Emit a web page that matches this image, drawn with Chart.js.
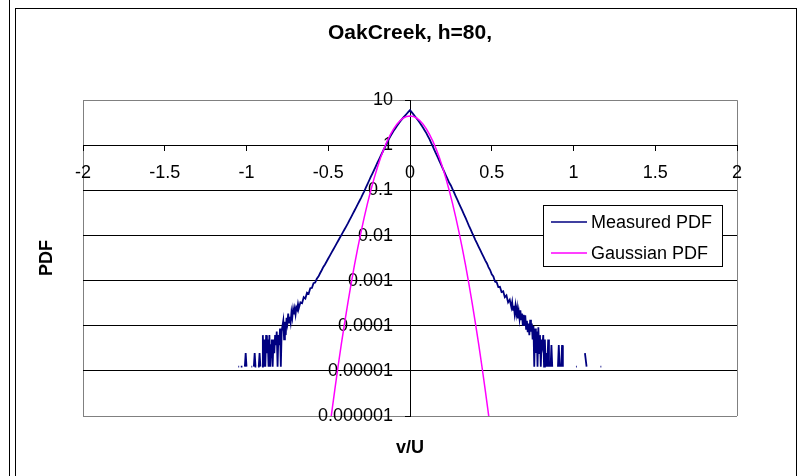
<!DOCTYPE html>
<html>
<head>
<meta charset="utf-8">
<title>OakCreek PDF</title>
<script src="https://cdn.jsdelivr.net/npm/chart.js@4.4.1/dist/chart.umd.min.js"></script>
<style>
  html, body { margin: 0; padding: 0; background: #fff; }
  #wrap { position: relative; width: 803px; height: 476px; }
</style>
</head>
<body>
<div id="wrap"><canvas id="pdfChart" width="803" height="476"></canvas></div>
<script>
const FONT = '"Liberation Sans", Arial, sans-serif';

// axis ticks
const xTicks = [-2, -1.5, -1, -0.5, 0, 0.5, 1, 1.5, 2];
const decadeTicks = [1e-6, 1e-5, 1e-4, 1e-3, 1e-2, 1e-1, 1, 10];
const decadeLabels = ['0.000001', '0.00001', '0.0001', '0.001', '0.01', '0.1', '1', '10'];

// measured velocity PDF (null = empty bin)
const vuMeasured = [
  -1.05, -1.045, -1.04, -1.035, -1.03, -1.025, -1.02, -1.01, -1.005, -1.0, -0.995,
  -0.97, -0.965, -0.96, -0.955, -0.95, -0.945, -0.94, -0.935, -0.93, -0.925, -0.92, -0.915, -0.91,
  -0.905, -0.9, -0.895, -0.89, -0.885, -0.88, -0.875, -0.87, -0.865, -0.86, -0.855, -0.85, -0.845,
  -0.84, -0.835, -0.83, -0.825, -0.82, -0.815, -0.81, -0.805, -0.8, -0.795, -0.79, -0.785, -0.78,
  -0.775, -0.77, -0.765, -0.76, -0.755, -0.75, -0.745, -0.74, -0.735, -0.73, -0.725, -0.72, -0.715,
  -0.71, -0.705, -0.7, -0.695, -0.69, -0.685, -0.68,
  -0.67, -0.66, -0.65, -0.64, -0.63, -0.62, -0.61, -0.6, -0.59, -0.58, -0.57, -0.56, -0.55, -0.54,
  -0.53, -0.52, -0.51, -0.5, -0.49, -0.48, -0.47, -0.46, -0.45, -0.44, -0.43, -0.42, -0.41, -0.4,
  -0.39, -0.38, -0.37, -0.36, -0.35, -0.34, -0.33, -0.32, -0.31, -0.3, -0.29, -0.28, -0.27, -0.26,
  -0.25, -0.24, -0.23, -0.22, -0.21, -0.2, -0.19, -0.18, -0.17, -0.16, -0.15, -0.14, -0.13, -0.12,
  -0.11, -0.1, -0.09, -0.08, -0.07, -0.06, -0.05, -0.04, -0.03, -0.02, -0.01, 0,
  0.01, 0.02, 0.03, 0.04, 0.05, 0.06, 0.07, 0.08, 0.09, 0.1, 0.11, 0.12, 0.13, 0.14, 0.15, 0.16,
  0.17, 0.18, 0.19, 0.2, 0.21, 0.22, 0.23, 0.24, 0.25, 0.26, 0.27, 0.28, 0.29, 0.3, 0.31, 0.32,
  0.33, 0.34, 0.35, 0.36, 0.37, 0.38, 0.39, 0.4, 0.41, 0.42, 0.43, 0.44, 0.45, 0.46, 0.47, 0.48,
  0.49, 0.5, 0.51, 0.52, 0.53, 0.54, 0.55, 0.56, 0.57, 0.58, 0.59, 0.6, 0.61, 0.62,
  0.625, 0.63, 0.635, 0.64, 0.645, 0.65, 0.655, 0.66, 0.665, 0.67, 0.675, 0.68, 0.685, 0.69,
  0.695, 0.7, 0.705, 0.71, 0.715, 0.72,
  0.725, 0.73, 0.735, 0.74, 0.745, 0.75, 0.755, 0.76, 0.765, 0.77, 0.775, 0.78, 0.785, 0.79,
  0.795, 0.8, 0.805, 0.81, 0.815, 0.82, 0.825, 0.83, 0.835, 0.84, 0.845, 0.85, 0.855, 0.86, 0.865, 0.87,
  0.875, 0.905, 0.91, 0.915, 0.92, 0.925, 0.93, 0.935, 0.94,
  1.015, 1.02, 1.025, 1.07, 1.08, 1.085, 1.165, 1.17
];
const pdfMeasured = [
  1.24e-5, 1.24e-5, null, 1.24e-5, 1.24e-5, 1.24e-5, null, 1.24e-5, 2.48e-5, 1.24e-5, null,
  1.24e-5, 1.24e-5, null, 1.24e-5, 2.48e-5, 1.24e-5, 1.24e-5, null, 1.24e-5, 1.24e-5, 2.48e-5, 1.24e-5, null,
  1.24e-5, 6.2e-5, 1.24e-5, 4.96e-5, 1.24e-5, 6.2e-5, 2.48e-5, 4.96e-5, 1.24e-5, 6.2e-5, 1.24e-5, 3.72e-5, 4.96e-5,
  1.24e-5, 4.96e-5, 2.48e-5, 6.2e-5, 3.72e-5, 7.44e-5, 1.24e-5, 6.2e-5, 3.72e-5, 8.68e-5, 1.24e-5, 7.44e-5, 9.9e-5,
  1.29e-4, 5.0e-5, 1.23e-4, 6.2e-5, 1.51e-4, 1.14e-4, 1.86e-4, 1.17e-4, 1.58e-4, 1.19e-4, 2.0e-4, 1.51e-4, 2.32e-4,
  1.78e-4, 2.37e-4, 1.78e-4, 2.54e-4, 2.29e-4, 3.05e-4, 2.45e-4,
  3.31e-4, 3.16e-4, 4.3e-4, 4.0e-4, 5.4e-4, 5.1e-4, 6.8e-4, 6.9e-4, 8.8e-4, 9.1e-4, 1.1e-3, 1.23e-3, 1.46e-3, 1.7e-3,
  2.02e-3, 2.29e-3, 2.66e-3, 3.09e-3, 3.59e-3, 4.17e-3, 4.84e-3, 5.62e-3, 6.53e-3, 7.59e-3, 8.81e-3, 0.0102, 0.0119, 0.0138,
  0.016, 0.0186, 0.0219, 0.0257, 0.0302, 0.0355, 0.0417, 0.049, 0.0575, 0.0676, 0.0804, 0.0955, 0.115, 0.138,
  0.166, 0.2, 0.237, 0.282, 0.339, 0.407, 0.484, 0.575, 0.684, 0.813, 0.966, 1.15, 1.35, 1.58,
  1.82, 2.09, 2.37, 2.69, 3.02, 3.39, 3.76, 4.17, 4.57, 5.01, 5.5, 6.03,
  5.43, 4.9, 4.42, 3.98, 3.55, 3.16, 2.79, 2.45, 2.14, 1.86, 1.58, 1.35, 1.12, 0.933, 0.776, 0.646,
  0.537, 0.447, 0.372, 0.309, 0.257, 0.214, 0.178, 0.148, 0.129, 0.107, 0.0891, 0.0741, 0.0617, 0.0513, 0.0427, 0.0355,
  0.0295, 0.0245, 0.0202, 0.0166, 0.0138, 0.0115, 0.00955, 0.00794, 0.00668, 0.00562, 0.00473, 0.00398, 0.00335, 0.00282, 0.00243, 0.002,
  0.00172, 0.00138, 0.00124, 9.5e-4, 9.2e-4, 7.2e-4, 7.3e-4, 5.6e-4, 5.8e-4, 4.3e-4, 4.7e-4, 3.3e-4, 3.8e-4, 2.57e-4,
  3.35e-4, 2.24e-4, 2.79e-4, 1.86e-4, 2.75e-4, 1.84e-4, 2.51e-4, 1.45e-4, 2.09e-4, 1.43e-4, 2.19e-4, 1.38e-4, 1.86e-4, 1.01e-4,
  1.74e-4, 1.0e-4, 1.7e-4, 8.6e-5, 1.29e-4, 7.2e-5,
  1.12e-4, 6.2e-5, 1.36e-4, 7.44e-5, 1.12e-4, 4.96e-5, 9.9e-5, 1.24e-5, 8.68e-5, 2.48e-5, 7.44e-5, 1.24e-5, 9.3e-5, 2.48e-5,
  6.2e-5, 1.24e-5, 4.96e-5, 3.72e-5, 6.2e-5, 1.24e-5, 4.96e-5, 1.24e-5, 2.48e-5, 1.24e-5, 4.96e-5, 1.24e-5, null, 1.24e-5, 3.72e-5, 1.24e-5,
  null, 1.24e-5, 3.72e-5, 1.24e-5, null, 1.24e-5, 3.72e-5, 1.24e-5, null,
  1.24e-5, 1.24e-5, null, 2.48e-5, 1.24e-5, null, 1.24e-5, 1.24e-5
];

// fitted gaussian
const vuGaussian = [
  -0.5, -0.48, -0.46, -0.44, -0.42, -0.4, -0.38, -0.36, -0.34, -0.32, -0.3, -0.28, -0.26,
  -0.24, -0.22, -0.2, -0.18, -0.16, -0.14, -0.12, -0.1, -0.08, -0.06, -0.04, -0.02, 0,
  0.02, 0.04, 0.06, 0.08, 0.1, 0.12, 0.14, 0.16, 0.18, 0.2, 0.22, 0.24,
  0.26, 0.28, 0.3, 0.32, 0.34, 0.36, 0.38, 0.4, 0.42, 0.44, 0.46, 0.48, 0.5
];
const pdfGaussian = [
  3.0e-7, 1.1e-6, 3.81e-6, 1.25e-5, 3.9e-5, 1.15e-4, 3.23e-4, 8.59e-4, 2.17e-3, 5.18e-3, 0.0118, 0.0253, 0.0516,
  0.0999, 0.183, 0.319, 0.528, 0.827, 1.23, 1.73, 2.32, 2.94, 3.54, 4.04, 4.37, 4.49,
  4.37, 4.04, 3.54, 2.94, 2.32, 1.73, 1.23, 0.827, 0.528, 0.319, 0.183, 0.0999,
  0.0516, 0.0253, 0.0118, 5.18e-3, 2.17e-3, 8.59e-4, 3.23e-4, 1.15e-4, 3.9e-5, 1.25e-5, 3.81e-6, 1.1e-6, 3.0e-7
];

const toPoints = (xs, ys) => xs.map((x, i) => ({ x, y: ys[i] }));

// the value axis sits at x=0, so its labels get pulled clear of the tick marks
const Y_LABEL_SHIFT = 17;
function offsetYLabels(scale) {
  if (scale.$shifted) return;
  const drawLabels = scale.drawLabels.bind(scale);
  scale.drawLabels = (area) => {
    scale.ctx.save();
    scale.ctx.translate(-Y_LABEL_SHIFT, 0);
    drawLabels(area);
    scale.ctx.restore();
  };
  scale.$shifted = true;
}

// outer frame, axis titles and the boxed legend
const sheetDecor = {
  id: 'sheetDecor',
  beforeDraw(chart) {
    const ctx = chart.ctx;
    ctx.save();
    ctx.fillStyle = '#fff';
    ctx.fillRect(0, 0, chart.width, chart.height);
    ctx.strokeStyle = '#000';
    ctx.lineWidth = 1;
    ctx.beginPath();
    ctx.moveTo(9.5, 0);
    ctx.lineTo(9.5, chart.height);
    ctx.stroke();
    ctx.strokeRect(15.5, 8.5, 781, 475);
    ctx.restore();
  },
  afterDraw(chart) {
    const ctx = chart.ctx;
    const area = chart.chartArea;
    ctx.save();
    ctx.fillStyle = '#000';
    ctx.font = 'bold 18px ' + FONT;
    ctx.textAlign = 'center';
    ctx.textBaseline = 'middle';
    ctx.fillText('v/U', (area.left + area.right) / 2, 448);
    ctx.translate(47, (area.top + area.bottom) / 2);
    ctx.rotate(-Math.PI / 2);
    ctx.fillText('PDF', 0, 0);
    ctx.restore();

    // legend
    const box = { x: 543.5, y: 205.5, w: 179, h: 61 };
    ctx.save();
    ctx.fillStyle = '#fff';
    ctx.fillRect(box.x, box.y, box.w, box.h);
    ctx.strokeStyle = '#000';
    ctx.lineWidth = 1;
    ctx.strokeRect(box.x, box.y, box.w, box.h);
    ctx.font = '18px ' + FONT;
    ctx.textAlign = 'left';
    ctx.textBaseline = 'middle';
    chart.data.datasets.forEach((ds, i) => {
      const y = 222 + i * 31;
      ctx.strokeStyle = ds.borderColor;
      ctx.lineWidth = 1.5;
      ctx.beginPath();
      ctx.moveTo(551, y);
      ctx.lineTo(587, y);
      ctx.stroke();
      ctx.fillStyle = '#000';
      ctx.fillText(ds.label, 591, y + 1);
    });
    ctx.restore();
  }
};

new Chart(document.getElementById('pdfChart'), {
  type: 'line',
  data: {
    datasets: [
      {
        label: 'Measured PDF',
        data: toPoints(vuMeasured, pdfMeasured),
        borderColor: '#000080',
        borderWidth: 1.8,
        pointRadius: 0,
        tension: 0,
        spanGaps: false,
        order: 1
      },
      {
        label: 'Gaussian PDF',
        data: toPoints(vuGaussian, pdfGaussian),
        borderColor: '#ff00ff',
        borderWidth: 1.5,
        pointRadius: 0,
        tension: 0,
        order: 0
      }
    ]
  },
  options: {
    responsive: false,
    animation: false,
    devicePixelRatio: 1,
    layout: { padding: { left: 83, right: 66, top: 0, bottom: 60 } },
    plugins: {
      legend: { display: false },
      tooltip: { enabled: false },
      title: {
        display: true,
        text: 'OakCreek, h=80,',
        color: '#000',
        font: { family: FONT, size: 21, weight: 'bold', lineHeight: 1.2 },
        padding: { top: 21, bottom: 54 }
      }
    },
    scales: {
      x: {
        type: 'linear',
        min: -2,
        max: 2,
        position: { y: 1 },
        afterBuildTicks: (scale) => { scale.ticks = xTicks.map((v) => ({ value: v })); },
        afterFit: (scale) => { scale.height = 0; scale.paddingLeft = 0; scale.paddingRight = 0; },
        ticks: {
          autoSkip: false,
          maxRotation: 0,
          padding: 12,
          color: '#000',
          font: { family: FONT, size: 18 },
          callback: (v) => String(v)
        },
        grid: {
          drawOnChartArea: true,
          color: (c) => (c.tick && Math.abs(c.tick.value) === 2 ? '#808080' : 'rgba(0,0,0,0)'),
          tickColor: '#000',
          tickLength: 5
        },
        border: { display: true, color: '#000', width: 1 }
      },
      y: {
        type: 'logarithmic',
        min: 1e-6,
        max: 10,
        position: { x: 0 },
        afterBuildTicks: (scale) => { scale.ticks = decadeTicks.map((v) => ({ value: v, major: true })); },
        afterFit: (scale) => {
          scale.width = 0;
          scale.paddingTop = 0;
          scale.paddingBottom = 0;
          offsetYLabels(scale);
        },
        ticks: {
          autoSkip: false,
          color: '#000',
          font: { family: FONT, size: 18 },
          callback: (v, i) => decadeLabels[i]
        },
        grid: {
          color: (c) => (c.tick && (c.tick.value === 10 || c.tick.value === 1e-6) ? '#808080' : '#000'),
          tickColor: '#000',
          tickLength: 5
        },
        border: { display: true, color: '#000', width: 1 }
      }
    }
  },
  plugins: [sheetDecor]
});
</script>
</body>
</html>
